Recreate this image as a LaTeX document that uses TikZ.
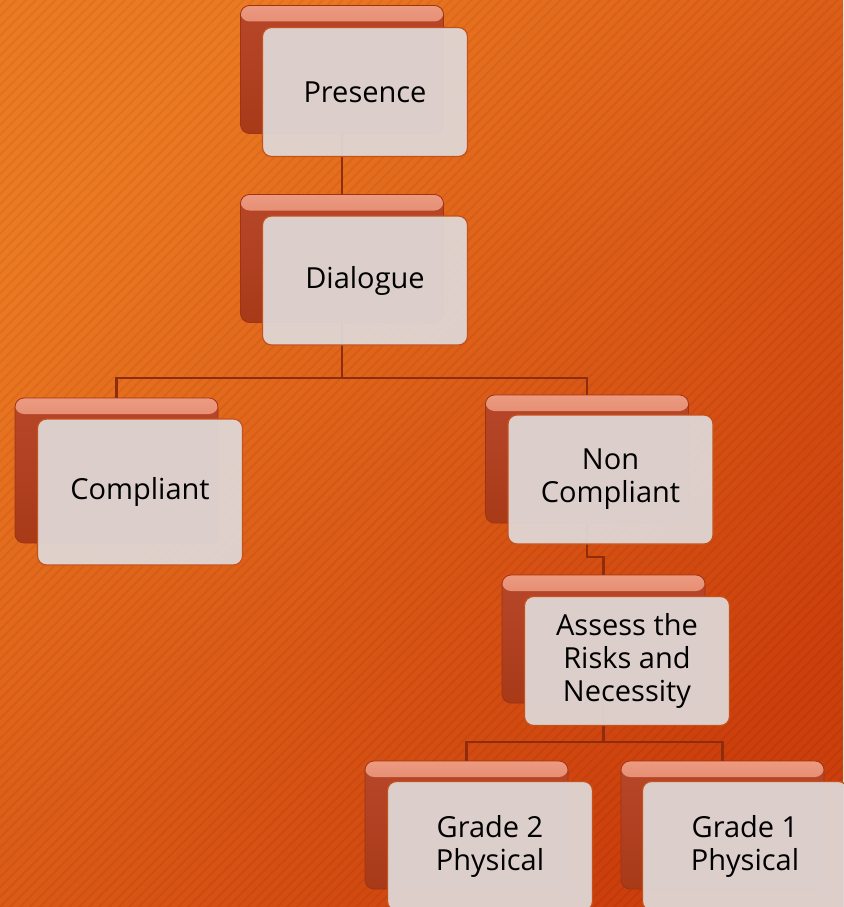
\documentclass[tikz,border=0pt]{standalone}
\usepackage{fontspec}
\setmainfont{Open Sans}
\usetikzlibrary{patterns.meta}
\definecolor{bgtop}{HTML}{EC7A22}
\definecolor{bgbot}{HTML}{CC3E0C}
\definecolor{cardhi}{HTML}{EC9A80}
\definecolor{cardmid}{HTML}{B8472A}
\definecolor{carddk}{HTML}{A83A18}
\definecolor{cardedge}{HTML}{9E3414}
\definecolor{facefill}{HTML}{DFD6D4}
\definecolor{faceedge}{HTML}{C4521C}
\definecolor{wirecol}{HTML}{8E2C0C}
\pgfdeclarelayer{bg}
\pgfdeclarelayer{links}
\pgfsetlayers{bg,links,main}
\tikzset{
  cardback/.style={rounded corners=9pt,minimum width=203pt,minimum height=128pt,inner sep=0pt,
    draw=cardedge,line width=0.8pt,top color=cardmid,bottom color=carddk,
    path picture={\shade[top color=cardhi,bottom color=cardmid]
      (path picture bounding box.north west) rectangle ([yshift=-16pt]path picture bounding box.north east);}},
  cardface/.style={rounded corners=9pt,minimum width=205pt,minimum height=129pt,inner sep=0pt,
    draw=faceedge,line width=1.2pt,fill=facefill,fill opacity=0.95,text opacity=1,
    align=center,font=\fontsize{29}{33}\selectfont},
  wire/.style={draw=wirecol,line width=2.6pt}
}

\begin{document}
\begin{tikzpicture}[x=1pt,y=-1pt]
\useasboundingbox (0,0) rectangle (843,907);
\begin{pgfonlayer}{bg}
\shade[top color=bgtop,bottom color=bgbot,shading angle=45] (0,0) rectangle (843,907);
\fill[pattern={Lines[angle=45,distance=7pt,line width=2pt]},pattern color=black,opacity=0.05] (0,0) rectangle (843,907);
\end{pgfonlayer}
% back cards
\node[cardback] (presB) at (342,69.5) {};
\node[cardback] (diaB) at (342,258.5) {};
\node[cardback,minimum height=145pt] (compB) at (116.5,470.5) {};
\node[cardback] (ncB) at (587,459) {};
\node[cardback] (assB) at (603.5,639) {};
\node[cardback] (g2B) at (466.5,825) {};
\node[cardback] (g1B) at (722.5,825) {};
% front cards
\node[cardface] (presF) at (365,92) {Presence};
\node[cardface] (diaF) at (365,280.5) {Dialogue};
\node[cardface,minimum height=146pt] (compF) at (140,492) {Compliant};
\node[cardface] (ncF) at (610.5,479.5) {Non\\Compliant};
\node[cardface] (assF) at (627,661) {Assess the\\Risks and\\Necessity};
\node[cardface] (g2F) at (490,846) {Grade 2\\Physical};
\node[cardface] (g1F) at (745,846) {Grade 1\\Physical};
% connectors
\begin{pgfonlayer}{links}
\draw[wire] (presB.south) -- (diaB.north);
\coordinate (j1) at (diaB.south |- 0,378);
\draw[wire] (diaB.south) -- (j1);
\draw[wire] (compB.north) |- (j1) -| (ncB.north);
\coordinate (j2) at (ncB.south |- 0,557);
\draw[wire] (ncB.south) -- (j2) -| (assB.north);
\coordinate (j3) at (assB.south |- 0,742);
\draw[wire] (assB.south) -- (j3);
\draw[wire] (g2B.north) |- (j3) -| (g1B.north);
\end{pgfonlayer}
\end{tikzpicture}
\end{document}
